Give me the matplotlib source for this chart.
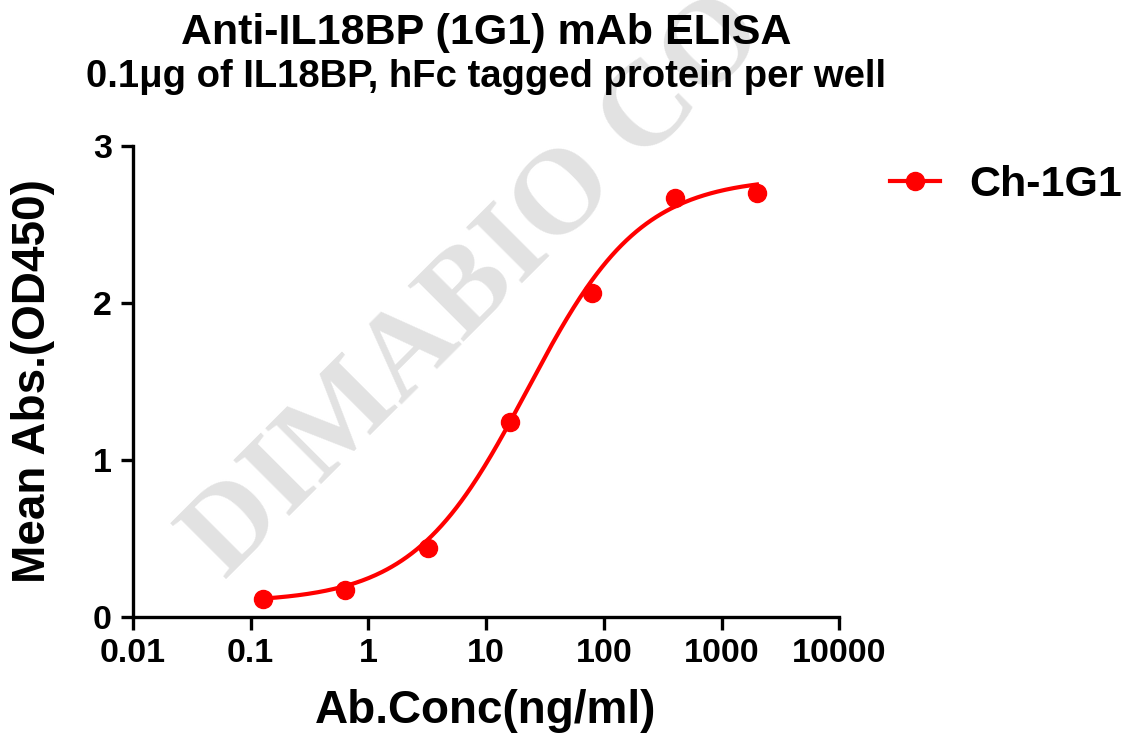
import numpy as np
import matplotlib.pyplot as plt

# data
conc = [0.128, 0.64, 3.2, 16, 80, 400, 2000]
od450 = [0.11, 0.17, 0.44, 1.24, 2.06, 2.67, 2.70]

# 4PL fit parameters (estimated from the drawn curve)
bottom = 0.09
top = 2.80
ec50 = 22.4
hill = 0.90

xticks = [0.01, 0.1, 1, 10, 100, 1000, 10000]
xticklabels = ['0.01', '0.1', '1', '10', '100', '1000', '10000']
yticks = [0, 1, 2, 3]

plt.rcParams['font.family'] = ['Liberation Sans', 'DejaVu Sans']
plt.rcParams['font.weight'] = 'bold'

fig = plt.figure(figsize=(11.25, 7.36), dpi=100)
ax = fig.add_axes([0.118, 0.162, 0.628, 0.640])

# watermark
fig.text(0.20, 0.212, 'DIMABIO CO', fontsize=87, family='Liberation Serif',
         fontweight='bold', color='#e2e2e2', rotation=45, rotation_mode='anchor',
         ha='left', va='baseline', zorder=0)

xs = np.logspace(np.log10(0.128), np.log10(2000), 300)
fit = bottom + (top - bottom) / (1 + (ec50 / xs) ** hill)
ax.plot(xs, fit, color='#ff0000', lw=3.0, zorder=3)
ax.plot(conc, od450, 'o', color='#ff0000', ms=13, zorder=4)
# legend handle
ax.plot([], [], '-o', color='#ff0000', lw=3.0, ms=13, label='Ch-1G1')

ax.set_xscale('log')
ax.set_xlim(0.01, 10000)
ax.set_ylim(0, 3)
ax.set_xticks(xticks)
ax.set_xticklabels(xticklabels)
ax.minorticks_off()
ax.set_yticks(yticks)

for s in ['top', 'right']:
    ax.spines[s].set_visible(False)
for s in ['left', 'bottom']:
    ax.spines[s].set_linewidth(2.4)
ax.tick_params(direction='out', length=9, width=2.4, labelsize=24.5, pad=6)
ax.patch.set_alpha(0)

ax.set_xlabel('Ab.Conc(ng/ml)', fontsize=33, fontweight='bold', labelpad=15)
ax.set_ylabel('Mean Abs.(OD450)', fontsize=33, fontweight='bold', labelpad=27)

fig.text(0.432, 0.955, 'Anti-IL18BP (1G1) mAb ELISA', fontsize=31,
         fontweight='bold', ha='center', va='center')
fig.text(0.432, 0.896, '0.1μg of IL18BP, hFc tagged protein per well', fontsize=27.5,
         fontweight='bold', ha='center', va='center')

leg = ax.legend(loc='center left', bbox_to_anchor=(890 / 1125, 1 - 185 / 736),
                bbox_transform=fig.transFigure, frameon=False, borderpad=0,
                borderaxespad=0, fontsize=31, handlelength=1.15, handletextpad=0.7)

fig.savefig('out.png', dpi=100)
